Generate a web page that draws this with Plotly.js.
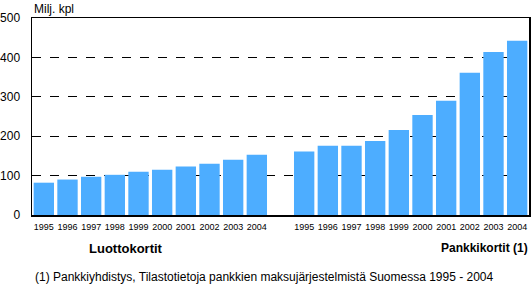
<!DOCTYPE html>
<html><head><meta charset="utf-8">
<script src="https://cdn.plot.ly/plotly-3.0.1.min.js"></script>
<style>body{margin:0;padding:0;background:#fff}#c{width:531px;height:284px}</style>
</head><body><div id="c"></div>
<script>
var years = ["1995","1996","1997","1998","1999","2000","2001","2002","2003","2004"];
var luottokortit = [82, 90, 97, 102, 110, 115, 123, 130, 140, 153];
var pankkikortit = [161, 176, 176, 188, 216, 254, 290, 361, 414, 442];
var groupLabels = ["Luottokortit", "Pankkikortit (1)"];
var yTicks = [0, 100, 200, 300, 400, 500];
var yTitle = "Milj. kpl";
var footnote = "(1) Pankkiyhdistys, Tilastotietoja pankkien maksujärjestelmistä Suomessa 1995 - 2004";

var n = years.length;
var xs = [], ys = [], tv = [], tt = [];
for (var i = 0; i < n; i++) { xs.push(i); ys.push(luottokortit[i]); tv.push(i); tt.push(years[i]); }
for (var j = 0; j < n; j++) { xs.push(n + 1 + j); ys.push(pankkikortit[j]); tv.push(n + 1 + j); tt.push(years[j]); }

var W = 531, L = 32, R = 2, T = 18, B = 69;
var pw = W - L - R;
function px2paper(x) { return (x - L) / pw; }

var data = [{
  type: 'bar', x: xs, y: ys,
  marker: {color: '#4DADFF', line: {width: 0}},
  hoverinfo: 'none'
}];
var layout = {
  width: 531, height: 284,
  margin: {l: L, r: R, t: T, b: B},
  paper_bgcolor: '#fff', plot_bgcolor: '#fff',
  bargap: 0.14,
  showlegend: false,
  font: {family: 'Liberation Sans, Arial, sans-serif', color: '#000'},
  xaxis: {
    range: [-0.5, 2 * n + 0.5], tickmode: 'array', tickvals: tv, ticktext: tt,
    showgrid: false, zeroline: false, showline: true, mirror: true, linecolor: '#000', linewidth: 1.5,
    ticks: 'outside', ticklen: 3, tickcolor: 'rgba(0,0,0,0)',
    tickfont: {size: 9, family: 'Liberation Sans, Arial, sans-serif'}, tickangle: 0
  },
  yaxis: {
    range: [0, 500], tickmode: 'array', tickvals: yTicks,
    showgrid: true, gridcolor: '#000', griddash: 'dash', gridwidth: 1,
    zeroline: false, showline: true, mirror: true, linecolor: '#000', linewidth: 1.5,
    ticks: 'outside', ticklen: 8, tickcolor: 'rgba(0,0,0,0)',
    tickfont: {size: 12, family: 'Liberation Sans, Arial, sans-serif'}
  },
  annotations: [
    {text: yTitle, xref: 'paper', yref: 'paper', x: 0, y: 1, xanchor: 'left', yanchor: 'bottom', yshift: 0, showarrow: false, font: {size: 12}},
    {text: '<b>' + groupLabels[0] + '</b>', xref: 'paper', yref: 'paper', x: px2paper(126), y: 0, xanchor: 'center', yanchor: 'middle', yshift: -33, showarrow: false, font: {size: 13}},
    {text: '<b>' + groupLabels[1] + '</b>', xref: 'paper', yref: 'paper', x: px2paper(439), y: 0, xanchor: 'left', yanchor: 'middle', yshift: -33, showarrow: false, font: {size: 12}},
    {text: footnote, xref: 'paper', yref: 'paper', x: px2paper(33), y: 0, xanchor: 'left', yanchor: 'middle', yshift: -62, showarrow: false, font: {size: 12}}
  ]
};
Plotly.newPlot('c', data, layout, {staticPlot: true, displayModeBar: false});
</script></body></html>
